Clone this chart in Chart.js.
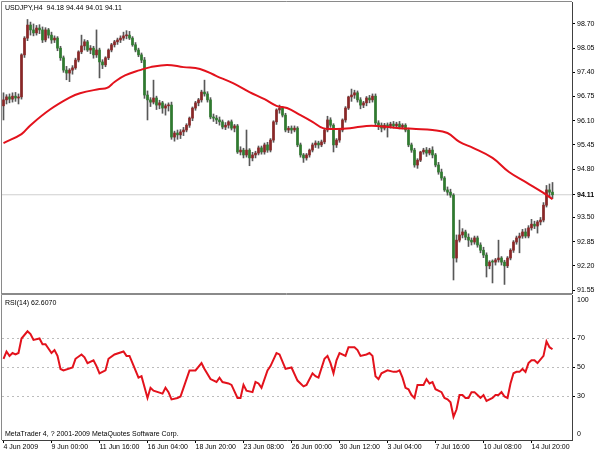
<!DOCTYPE html>
<html>
<head>
<meta charset="utf-8">
<script src="https://cdn.jsdelivr.net/npm/chart.js@4.4.0/dist/chart.umd.min.js"></script>
<style>
  html, body { margin: 0; padding: 0; background: #fff; }
  #wrap { position: relative; width: 602px; height: 453px; overflow: hidden; }
  #priceWrap { position: absolute; left: 0; top: 0; width: 602px; height: 295px; }
  #rsiWrap { position: absolute; left: 0; top: 288px; width: 602px; height: 165px; }
</style>
</head>
<body>
<div id="wrap">
  <div id="priceWrap"><canvas id="priceChart"></canvas></div>
  <div id="rsiWrap"><canvas id="rsiChart"></canvas></div>
</div>
<script>
// USDJPY H4 candles, one entry per bar (bar 0 = 4 Jun 2009)
const symbol = 'USDJPY,H4';

const opens = [
  96.50, 96.66, 96.74, 96.68, 96.76, 96.71, 96.74, 97.87, 98.32, 98.67,
  98.54, 98.46, 98.59, 98.54, 98.27, 98.54, 98.40, 98.27, 98.32, 98.05,
  97.79, 97.46, 97.38, 97.46, 97.52, 97.73, 97.95, 98.11, 98.22, 98.00,
  98.05, 97.87, 98.00, 97.68, 97.60, 97.79, 98.00, 98.14, 98.22, 98.27,
  98.32, 98.38, 98.40, 98.32, 98.14, 98.00, 97.87, 97.73, 96.79, 96.66,
  96.60, 96.71, 96.52, 96.58, 96.44, 96.50, 96.52, 95.66, 95.77, 95.72,
  95.80, 95.85, 95.98, 96.17, 96.44, 96.58, 96.66, 96.87, 96.82, 96.66,
  96.20, 96.17, 96.12, 96.07, 95.93, 95.98, 96.07, 95.90, 95.96, 95.26,
  95.31, 95.18, 95.31, 95.10, 95.18, 95.23, 95.37, 95.26, 95.45, 95.31,
  95.58, 96.07, 96.39, 96.44, 96.25, 95.85, 95.90, 95.85, 95.90, 95.45,
  95.18, 95.10, 95.18, 95.31, 95.45, 95.50, 95.45, 95.53, 95.85, 96.12,
  95.98, 95.45, 95.58, 95.85, 96.12, 96.44, 96.74, 96.79, 96.85, 96.66,
  96.52, 96.58, 96.71, 96.66, 96.76, 96.04, 95.98, 95.90, 95.98, 95.96,
  96.01, 95.96, 96.01, 95.93, 95.98, 95.85, 95.45, 95.31, 94.91, 95.04,
  95.26, 95.31, 95.23, 95.31, 95.18, 94.91, 94.72, 94.56, 94.24, 94.18,
  94.10, 92.41, 92.89, 93.03, 93.11, 92.97, 92.89, 92.84, 92.95, 92.76,
  92.62, 92.49, 92.20, 92.30, 92.30, 92.36, 92.41, 92.30, 92.20, 92.41,
  92.62, 92.84, 92.95, 93.00, 93.11, 93.00, 93.22, 93.32, 93.27, 93.38,
  93.43, 93.83, 94.24, 94.18
];
const highs = [
  96.85, 96.80, 96.82, 96.85, 96.86, 96.82, 97.90, 98.36, 98.82, 98.75,
  98.70, 98.66, 98.68, 98.62, 98.60, 98.58, 98.48, 98.38, 98.36, 98.10,
  97.84, 97.56, 97.50, 97.58, 97.78, 97.98, 98.40, 98.28, 98.26, 98.12,
  98.10, 98.54, 98.05, 97.74, 97.82, 98.03, 98.18, 98.26, 98.32, 98.38,
  98.48, 98.52, 98.50, 98.36, 98.20, 98.05, 97.92, 97.80, 96.90, 96.72,
  97.19, 96.76, 96.65, 96.62, 96.55, 96.58, 96.60, 95.82, 95.85, 95.86,
  95.92, 96.02, 96.20, 96.47, 96.62, 96.70, 96.92, 97.19, 96.88, 96.72,
  96.28, 96.24, 96.20, 96.12, 96.05, 96.10, 96.12, 96.00, 96.00, 95.40,
  95.36, 95.85, 95.35, 95.25, 95.28, 95.42, 95.42, 95.50, 95.52, 95.62,
  96.10, 96.42, 96.52, 96.48, 96.30, 95.95, 95.96, 95.96, 95.94, 95.50,
  95.22, 95.22, 95.34, 95.50, 95.56, 95.55, 95.58, 95.88, 96.22, 96.18,
  96.02, 95.62, 95.88, 96.15, 96.48, 96.76, 96.95, 96.92, 96.90, 96.72,
  96.62, 96.75, 96.78, 96.82, 96.82, 96.10, 96.04, 96.03, 96.04, 96.06,
  96.08, 96.06, 96.08, 96.02, 96.02, 95.90, 95.50, 95.36, 95.08, 95.28,
  95.36, 95.38, 95.36, 95.40, 95.22, 94.98, 94.80, 94.60, 94.32, 94.26,
  94.14, 93.03, 93.43, 93.20, 93.16, 93.06, 92.95, 93.00, 93.00, 92.82,
  92.70, 92.55, 92.34, 92.36, 92.40, 92.89, 92.45, 92.35, 92.45, 92.66,
  92.88, 93.00, 93.08, 93.18, 93.20, 93.28, 93.45, 93.40, 93.42, 93.50,
  93.90, 94.36, 94.40, 94.44
];
const lows = [
  96.12, 96.55, 96.58, 96.60, 96.62, 96.55, 96.68, 97.80, 98.25, 98.40,
  98.38, 98.40, 98.44, 98.20, 98.22, 98.32, 98.18, 98.20, 97.98, 97.72,
  97.40, 97.20, 97.15, 97.35, 97.48, 97.68, 97.90, 98.00, 97.96, 97.90,
  97.78, 97.80, 97.25, 97.50, 97.55, 97.74, 97.95, 98.08, 98.15, 98.20,
  98.26, 98.30, 98.28, 98.10, 97.95, 97.82, 97.66, 96.70, 96.12, 96.48,
  96.55, 96.40, 96.42, 96.30, 96.25, 96.36, 95.60, 95.55, 95.60, 95.62,
  95.70, 95.80, 95.92, 96.10, 96.38, 96.50, 96.60, 96.76, 96.60, 96.15,
  96.08, 96.02, 95.98, 95.88, 95.86, 95.90, 95.85, 95.80, 95.22, 95.18,
  95.10, 95.12, 94.89, 95.02, 95.10, 95.18, 95.20, 95.20, 95.25, 95.26,
  95.52, 96.00, 96.30, 96.20, 95.80, 95.78, 95.76, 95.80, 95.40, 95.12,
  94.98, 95.04, 95.12, 95.26, 95.38, 95.36, 95.40, 95.48, 95.80, 95.92,
  95.26, 95.38, 95.52, 95.80, 96.06, 96.40, 96.62, 96.70, 96.60, 96.42,
  96.45, 96.50, 96.58, 96.60, 95.96, 95.86, 95.80, 95.85, 95.66, 95.90,
  95.90, 95.92, 95.88, 95.88, 95.80, 95.40, 95.25, 94.85, 94.82, 95.00,
  95.20, 95.14, 95.18, 95.10, 94.86, 94.66, 94.50, 94.20, 94.10, 94.04,
  91.82, 92.30, 92.84, 92.95, 92.90, 92.72, 92.76, 92.78, 92.70, 92.55,
  92.42, 91.90, 92.12, 91.74, 92.22, 92.30, 92.22, 91.70, 92.15, 92.36,
  92.56, 92.78, 92.55, 92.94, 92.95, 92.95, 93.16, 93.20, 93.08, 93.30,
  93.38, 93.78, 94.06, 94.01
];
const closes = [
  96.66, 96.74, 96.68, 96.76, 96.71, 96.74, 97.87, 98.32, 98.67, 98.54,
  98.46, 98.59, 98.54, 98.27, 98.54, 98.40, 98.27, 98.32, 98.05, 97.79,
  97.46, 97.38, 97.46, 97.52, 97.73, 97.95, 98.11, 98.22, 98.00, 98.05,
  97.87, 98.00, 97.68, 97.60, 97.79, 98.00, 98.14, 98.22, 98.27, 98.32,
  98.38, 98.40, 98.32, 98.14, 98.00, 97.87, 97.73, 96.79, 96.66, 96.60,
  96.71, 96.52, 96.58, 96.44, 96.50, 96.52, 95.66, 95.77, 95.72, 95.80,
  95.85, 95.98, 96.17, 96.44, 96.58, 96.66, 96.87, 96.82, 96.66, 96.20,
  96.17, 96.12, 96.07, 95.93, 95.98, 96.07, 95.90, 95.96, 95.26, 95.31,
  95.18, 95.31, 95.10, 95.18, 95.23, 95.37, 95.26, 95.45, 95.31, 95.58,
  96.07, 96.39, 96.44, 96.25, 95.85, 95.90, 95.85, 95.90, 95.45, 95.18,
  95.10, 95.18, 95.31, 95.45, 95.50, 95.45, 95.53, 95.85, 96.12, 95.98,
  95.45, 95.58, 95.85, 96.12, 96.44, 96.74, 96.79, 96.85, 96.66, 96.52,
  96.58, 96.71, 96.66, 96.76, 96.04, 95.98, 95.90, 95.98, 95.96, 96.01,
  95.96, 96.01, 95.93, 95.98, 95.85, 95.45, 95.31, 94.91, 95.04, 95.26,
  95.31, 95.23, 95.31, 95.18, 94.91, 94.72, 94.56, 94.24, 94.18, 94.10,
  92.41, 92.89, 93.03, 93.11, 92.97, 92.89, 92.84, 92.95, 92.76, 92.62,
  92.49, 92.20, 92.30, 92.30, 92.36, 92.41, 92.30, 92.20, 92.41, 92.62,
  92.84, 92.95, 93.00, 93.11, 93.00, 93.22, 93.32, 93.27, 93.38, 93.43,
  93.83, 94.24, 94.18, 94.11
];

// moving average (bar index -> price)
const maBars = [0, 6, 9, 15.5, 22, 25.5, 32, 34.5, 37, 40.5, 45.5, 49, 54.5, 60, 65.5, 71, 76.5, 82, 87, 91,
  94.5, 99, 103, 106.5, 111, 115.5, 121, 124.5, 132, 137.5, 143, 148, 152, 156.5, 163, 168.5, 174.5, 180, 183];
const maValues = [95.50, 95.74, 95.98, 96.40, 96.72, 96.84, 96.95, 96.98, 97.14, 97.32, 97.46, 97.54, 97.60, 97.54, 97.49, 97.30, 97.11, 96.87, 96.68, 96.50,
  96.44, 96.25, 96.07, 95.90, 95.88, 95.90, 95.96, 95.96, 95.90, 95.88, 95.85, 95.77, 95.53, 95.37, 95.10, 94.72, 94.43, 94.16, 93.99];

// RSI(14)
const rsiBars = [0, 1, 2, 3, 4, 5, 6, 8, 9, 10, 12, 13, 14, 16, 17, 18, 19, 20, 23, 24,
  26, 27, 28, 30, 31, 32, 34, 35, 37, 40, 41, 42, 43, 45, 46, 48, 49, 50, 53, 54,
  55, 56, 58, 59, 60, 62, 64, 66, 67, 69, 71, 72, 73, 75, 76, 78, 79, 80, 81, 83,
  84, 85, 86, 88, 89, 91, 92, 94, 96, 98, 99, 100, 101, 103, 104, 105, 107, 108, 109, 110,
  111, 112, 114, 115, 117, 118, 119, 121, 122, 123, 124, 125, 126, 128, 130, 131, 132, 133, 134, 135,
  136, 137, 138, 140, 141, 142, 143, 144, 146, 147, 148, 149, 150, 151, 152, 153, 154, 155, 156, 157,
  158, 159, 160, 161, 163, 164, 165, 166, 167, 168, 169, 170, 171, 172, 173, 174, 175, 176, 177, 178,
  180, 181, 182, 183];
const rsiValues = [56, 61, 58, 60, 59, 60, 70, 75, 73, 69, 70, 66, 66, 60, 62, 58, 49, 48, 50, 56,
  59, 57, 53, 55, 51, 46, 48, 56, 59, 61, 58, 58, 53, 43, 44, 29, 36, 34, 32, 36,
  33, 28, 29, 30, 36, 48, 48, 53, 49, 42, 40, 43, 40, 39, 38, 29, 29, 38, 34, 33,
  40, 39, 36, 48, 51, 60, 59, 49, 50, 41, 39, 37, 38, 46, 44, 43, 56, 58, 53, 46,
  55, 60, 58, 64, 64, 62, 58, 59, 60, 58, 44, 42, 46, 48, 47, 47, 48, 43, 36, 35,
  31, 29, 38, 38, 42, 39, 40, 35, 33, 29, 28, 26, 16, 21, 31, 31, 29, 29, 33, 33,
  31, 29, 31, 27, 29, 31, 31, 33, 30, 29, 39, 46, 47, 47, 49, 47, 53, 55, 55, 53,
  58, 68, 64, 62.607];
const rsiLevels = [70, 50, 30];
const rsiTicks = [100, 70, 50, 30, 0];

const priceTicks = [98.70, 98.05, 97.40, 96.75, 96.10, 95.45, 94.80, 93.50, 92.85, 92.20, 91.55];
const timeLabels = ['4 Jun 2009', '9 Jun 00:00', '11 Jun 16:00', '16 Jun 04:00', '18 Jun 20:00', '23 Jun 08:00',
  '26 Jun 00:00', '30 Jun 12:00', '3 Jul 04:00', '7 Jul 16:00', '10 Jul 08:00', '14 Jul 20:00'];
const timeLabelBars = [0, 16, 32, 48, 64, 80, 96, 112, 128, 144, 160, 176];
const copyright = 'MetaTrader 4, ? 2001-2009 MetaQuotes Software Corp.';

const FONT = '"Liberation Sans", Arial, sans-serif';
const UP = '#8a2727';
const DOWN = '#2f7b2f';
const WICK = '#585858';
const RED = '#e3121c';
const xMin = -0.5, xMax = 189.5;
const last = closes.length - 1;
const lastClose = closes[last];

Chart.defaults.font.family = FONT;
Chart.defaults.font.size = 7;
Chart.defaults.color = '#000';

// axes must not eat into the plot area for half-label padding
const noPad = s => {
  s.paddingTop = 0;
  s.paddingBottom = 0;
  s.paddingLeft = 0;
  s.paddingRight = 0;
};

// gray frame on left / top (and bottom of price panel)
const frame = {
  id: 'frame',
  afterDraw(chart) {
    const { ctx, chartArea: a } = chart;
    ctx.save();
    ctx.strokeStyle = '#8a8a8a';
    ctx.lineWidth = 1;
    ctx.beginPath();
    ctx.moveTo(a.left - 0.5, a.bottom);
    ctx.lineTo(a.left - 0.5, a.top - 0.5);
    ctx.lineTo(a.right, a.top - 0.5);
    if (chart.canvas.id === 'priceChart') {
      ctx.moveTo(a.left - 1, a.bottom + 0.5);
      ctx.lineTo(a.right, a.bottom + 0.5);
    }
    ctx.stroke();
    ctx.restore();
  }
};

const priceText = {
  id: 'priceText',
  afterDraw(chart) {
    const { ctx, chartArea: a } = chart;
    const f = v => v.toFixed(2);
    ctx.save();
    ctx.font = '7px ' + FONT;
    ctx.fillStyle = '#000';
    ctx.textBaseline = 'middle';
    ctx.fillText(`${symbol}  ${f(opens[last])} ${f(highs[last])} ${f(lows[last])} ${f(lastClose)}`, a.left + 3, a.top + 6);
    ctx.restore();
  }
};

const rsiText = {
  id: 'rsiText',
  afterDraw(chart) {
    const { ctx, chartArea: a, scales: { y } } = chart;
    ctx.save();
    ctx.font = '7px ' + FONT;
    ctx.fillStyle = '#000';
    ctx.textBaseline = 'middle';
    rsiTicks.forEach(v => {
      let py = y.getPixelForValue(v);
      if (v === 100) py += 5;
      if (v === 0) py -= 6;
      ctx.fillText(String(v), a.right + 5, py);
    });
    ctx.fillText('RSI(14) ' + rsiValues[rsiValues.length - 1].toFixed(4), a.left + 3, a.top + 8);
    ctx.fillText(copyright, a.left + 3, a.bottom - 6);
    ctx.restore();
  }
};

new Chart(document.getElementById('priceChart'), {
  type: 'bar',
  data: {
    datasets: [
      {
        type: 'line',
        data: maBars.map((b, i) => ({ x: b, y: maValues[i] })),
        borderColor: RED,
        borderWidth: 2,
        pointRadius: 0,
        tension: 0.4,
        order: 0
      },
      {
        data: closes.map((c, i) => ({ x: i, y: [opens[i], c] })),
        backgroundColor: closes.map((c, i) => (c > opens[i] ? UP : DOWN)),
        barThickness: 2,
        minBarLength: 1,
        grouped: false,
        order: 1
      },
      {
        data: closes.map((c, i) => ({ x: i, y: [lows[i], highs[i]] })),
        backgroundColor: WICK,
        barThickness: 1,
        grouped: false,
        order: 2
      },
      {
        type: 'line',
        data: [{ x: xMin, y: lastClose }, { x: xMax, y: lastClose }],
        borderColor: '#cfcfcf',
        borderWidth: 1,
        pointRadius: 0,
        order: 3
      }
    ]
  },
  options: {
    responsive: true,
    maintainAspectRatio: false,
    devicePixelRatio: 1,
    animation: false,
    events: [],
    layout: { padding: { left: 2, top: 2, right: 0, bottom: 2 } },
    plugins: { legend: { display: false }, tooltip: { enabled: false } },
    scales: {
      x: { type: 'linear', min: xMin, max: xMax, offset: false, display: false },
      y: {
        position: 'right',
        min: 91.47,
        max: 99.29,
        bounds: 'data',
        afterBuildTicks: s => { s.ticks = priceTicks.concat([lastClose]).map(v => ({ value: v })); },
        afterFit: s => { s.width = 30; noPad(s); },
        grid: { drawOnChartArea: false, tickLength: 3, tickColor: '#000' },
        border: { color: '#404040' },
        ticks: {
          padding: 2,
          callback: v => v.toFixed(2),
          font: c => (c.tick && c.tick.value === lastClose ? { size: 7, weight: 'bold' } : { size: 7 })
        }
      }
    }
  },
  plugins: [frame, priceText]
});

new Chart(document.getElementById('rsiChart'), {
  type: 'line',
  data: {
    datasets: [{
      data: rsiBars.map((b, i) => ({ x: b, y: rsiValues[i] })),
      borderColor: RED,
      borderWidth: 2,
      pointRadius: 0,
      tension: 0
    }]
  },
  options: {
    responsive: true,
    maintainAspectRatio: false,
    devicePixelRatio: 1,
    animation: false,
    events: [],
    layout: { padding: { left: 2, top: 7, right: 0, bottom: 0 } },
    plugins: { legend: { display: false }, tooltip: { enabled: false } },
    scales: {
      x: {
        type: 'linear',
        min: xMin,
        max: xMax,
        offset: false,
        afterBuildTicks: s => { s.ticks = timeLabelBars.map(v => ({ value: v })); },
        afterFit: s => { s.height = 13; noPad(s); },
        grid: { drawOnChartArea: false, tickLength: 3, tickColor: '#000' },
        border: { color: '#404040' },
        ticks: {
          align: 'start',
          padding: 0,
          maxRotation: 0,
          autoSkip: false,
          callback: (v, i) => timeLabels[i]
        }
      },
      y: {
        position: 'right',
        min: 0,
        max: 100,
        afterBuildTicks: s => { s.ticks = rsiTicks.map(v => ({ value: v })); },
        afterFit: s => { s.width = 30; noPad(s); },
        grid: {
          color: c => (rsiLevels.includes(c.tick.value) ? '#bcbcbc' : 'rgba(0,0,0,0)'),
          tickColor: c => (rsiLevels.includes(c.tick.value) ? '#000' : 'rgba(0,0,0,0)'),
          tickLength: 3
        },
        border: { color: '#404040', dash: [2, 3] },
        ticks: { display: false }
      }
    }
  },
  plugins: [frame, rsiText]
});
</script>
</body>
</html>
